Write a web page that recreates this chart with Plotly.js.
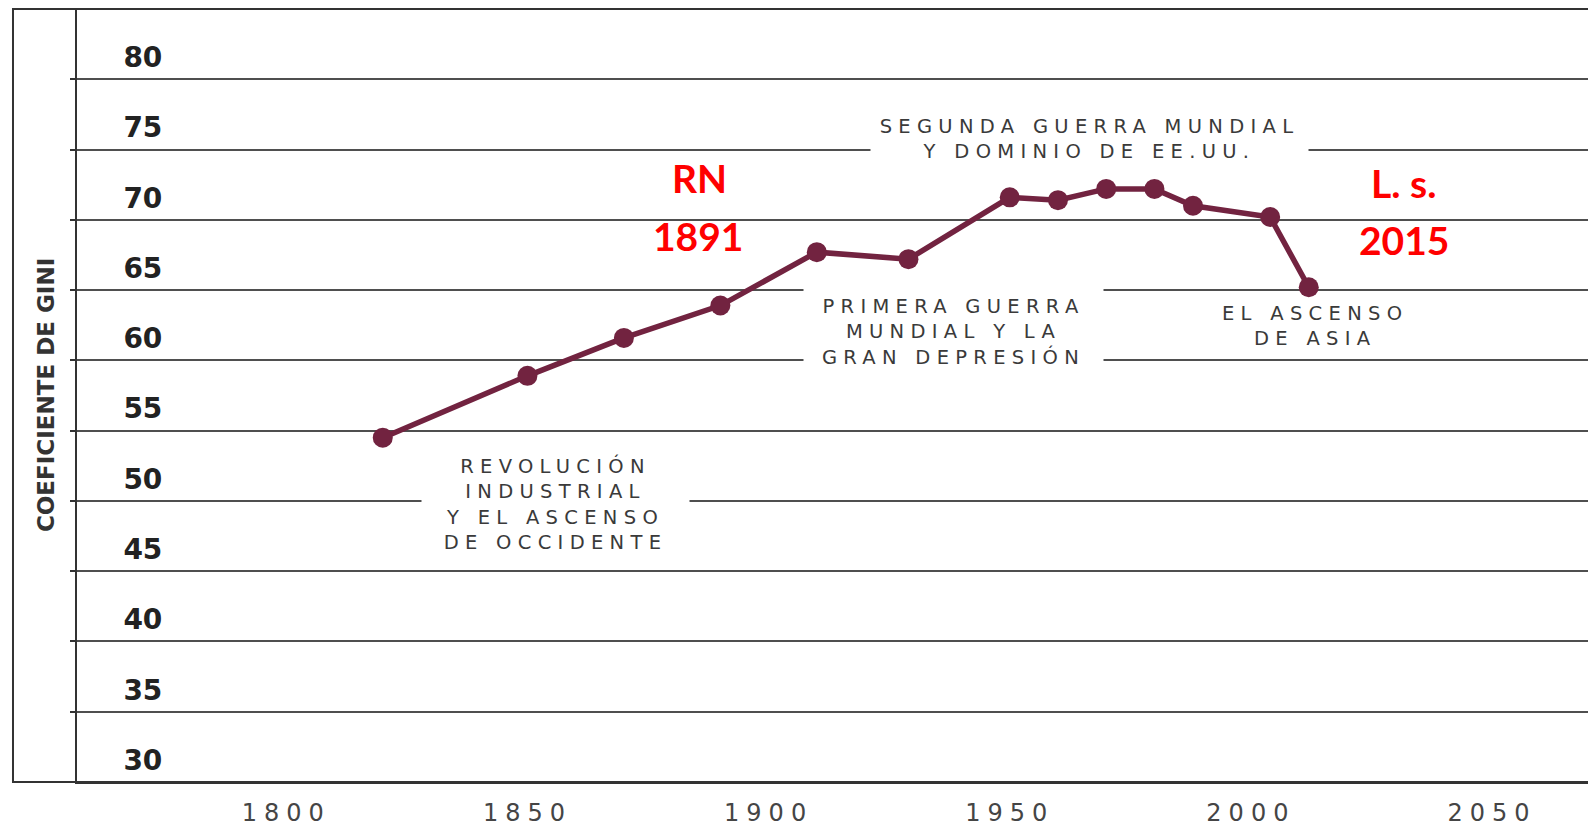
<!DOCTYPE html>
<html>
<head>
<meta charset="utf-8">
<script src="https://cdn.plot.ly/plotly-3.0.1.min.js"></script>
<style>
  html, body { margin: 0; padding: 0; background: #ffffff; }
  #chart { width: 1588px; height: 827px; }
  .xtick text { letter-spacing: 7px; }
</style>
</head>
<body>
<div id="chart"></div>
<script>
// ---- data ----
const years = [1820, 1850, 1870, 1890, 1910, 1929, 1950, 1960, 1970, 1980, 1988, 2004, 2012];
const gini  = [54.5, 58.9, 61.6, 63.9, 67.7, 67.2, 71.6, 71.4, 72.2, 72.2, 71.0, 70.2, 65.2];

const xTicks = [1800, 1850, 1900, 1950, 2000, 2050];
const yTicks = [30, 35, 40, 45, 50, 55, 60, 65, 70, 75, 80];

const yTitle = "COEFICIENTE DE GINI";

const eraLabels = [
  ["SEGUNDA GUERRA MUNDIAL", "Y DOMINIO DE EE.UU."],
  ["PRIMERA GUERRA", "MUNDIAL Y LA", "GRAN DEPRESIÓN"],
  ["EL ASCENSO", "DE ASIA"],
  ["REVOLUCIÓN", "INDUSTRIAL", "Y EL ASCENSO", "DE OCCIDENTE"]
];
const redLabels = [["RN", "1891"], ["L. s.", "2015"]];

// ---- styling / layout ----
const wine = "#722340";
const gridCol = "#4f4f4f";
const axisCol = "#333333";
const greyText = "#3a3a3a";

function spaced(lines) {
  return lines.map(l => '<span style="letter-spacing:6.3px">' + l + '</span>').join('<br>');
}

const trace = {
  x: years,
  y: gini,
  type: "scatter",
  mode: "lines+markers",
  line: { color: wine, width: 5.5 },
  marker: { color: wine, size: 20 },
  cliponaxis: false,
  hoverinfo: "skip"
};

const eraFont = { family: "DejaVu Sans", size: 19.5, color: greyText };
const redFont = { family: "Lato", size: 39, color: "#ff0000", weight: 700 };

const annotations = [
  { x: 1966.5, y: 75.73, text: spaced(eraLabels[0]), bgcolor: "#ffffff", width: 437, height: 56 },
  { x: 1938.4, y: 62.0,  text: spaced(eraLabels[1]), bgcolor: "#ffffff", width: 299, height: 96 },
  { x: 2013.3, y: 62.43, text: spaced(eraLabels[2]) },
  { x: 1855.8, y: 49.77, text: spaced(eraLabels[3]), bgcolor: "#ffffff", width: 267, height: 110 }
].map(a => Object.assign({ xref: "x", yref: "y", showarrow: false, font: eraFont, align: "center",
                           xanchor: "center", yanchor: "middle", borderpad: 0 }, a));

[
  { x: 1885.7, y: 72.96, text: redLabels[0][0] },
  { x: 1885.3, y: 68.83, text: redLabels[0][1] },
  { x: 2031.7, y: 72.6,  text: redLabels[1][0] },
  { x: 2031.7, y: 68.55, text: redLabels[1][1] }
].forEach(a => annotations.push(Object.assign({ xref: "x", yref: "y", showarrow: false, font: redFont,
                                                xanchor: "center", yanchor: "middle" }, a)));

// vertical axis title, placed between the outer frame and the axis line
annotations.push({
  xref: "paper", yref: "paper", x: -0.0205, y: 0.5006, xanchor: "center", yanchor: "middle",
  text: yTitle, textangle: -90, showarrow: false,
  font: { family: "DejaVu Sans", size: 23, color: axisCol, weight: 700 }
});

const layout = {
  width: 1588,
  height: 827,
  margin: { l: 77, r: 0, t: 9, b: 45, pad: 0 },
  paper_bgcolor: "#ffffff",
  plot_bgcolor: "#ffffff",
  showlegend: false,
  hovermode: false,
  font: { family: "DejaVu Sans", color: axisCol },
  xaxis: {
    range: [1756.6, 2069.9],
    tickvals: xTicks,
    ticktext: xTicks.map(String),
    ticks: "",
    showgrid: false,
    zeroline: false,
    showline: true,
    linecolor: axisCol,
    linewidth: 2,
    ticklabelstandoff: 8,
    tickfont: { family: "DejaVu Sans", size: 24, color: "#454545" },
    fixedrange: true
  },
  yaxis: {
    range: [30, 85],
    tickvals: yTicks,
    ticktext: yTicks.map(String),
    ticks: "outside",
    ticklen: 5,
    tickwidth: 2,
    tickcolor: axisCol,
    showgrid: true,
    gridcolor: gridCol,
    gridwidth: 2,
    zeroline: false,
    showline: true,
    linecolor: axisCol,
    linewidth: 2,
    ticklabelposition: "inside",
    ticklabelstandoff: 49,
    ticklabelshift: -22,
    tickfont: { family: "DejaVu Sans", size: 28, color: "#222222", weight: 700 },
    fixedrange: true
  },
  shapes: [
    { type: "rect", xref: "paper", yref: "paper", x0: -0.04236, x1: 1.02, y0: 0, y1: 1,
      line: { color: axisCol, width: 2 }, fillcolor: "rgba(0,0,0,0)", layer: "above" }
  ],
  annotations: annotations
};

Plotly.newPlot("chart", [trace], layout, { displayModeBar: false, staticPlot: true });
</script>
</body>
</html>
